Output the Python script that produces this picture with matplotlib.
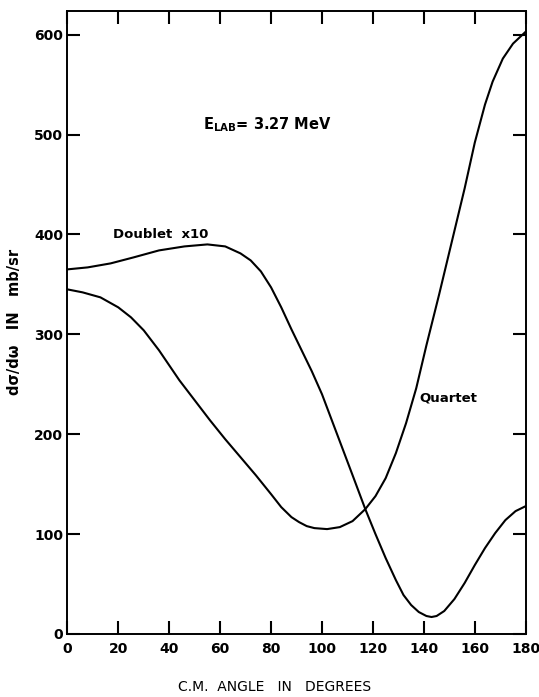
import matplotlib
matplotlib.use("Agg")
import matplotlib.pyplot as plt

# curves (angle in degrees, cross section in mb/sr)
quartet_angle = [0, 6, 13, 20, 25, 30, 36, 44, 50, 56, 62, 68, 74, 80, 84, 88,
                 91, 94, 97, 102, 107, 112, 117, 121, 125, 129, 133, 137, 141,
                 146, 151, 156, 160, 164, 167, 171, 175, 180]
quartet_val = [345, 342, 337, 327, 317, 304, 284, 254, 234, 214, 195, 177, 159,
               140, 127, 117, 112, 108, 106, 105, 107, 113, 125, 138, 156,
               181, 211, 246, 289, 340, 393, 446, 492, 530, 553, 576, 591, 603]

doublet_angle = [0, 8, 17, 26, 36, 46, 55, 62, 68, 72, 76, 80, 84, 88, 92, 96,
                 100, 104, 108, 112, 117, 121, 125, 129, 132, 135, 138, 141,
                 143, 145, 148, 152, 156, 160, 164, 168, 172, 176, 180]
doublet_val = [365, 367, 371, 377, 384, 388, 390, 388, 381, 374, 363, 347, 327,
               305, 284, 263, 240, 213, 186, 159, 125, 100, 76, 54, 39, 29, 22,
               18, 17, 18, 23, 35, 51, 69, 86, 101, 114, 123, 128]

x_ticks = [0, 20, 40, 60, 80, 100, 120, 140, 160, 180]
y_ticks = [0, 100, 200, 300, 400, 500, 600]

fig = plt.figure(figsize=(5.39, 6.97), dpi=100)
ax = fig.add_axes([0.1249, 0.0904, 0.8505, 0.8943])

ax.plot(quartet_angle, quartet_val, color='black', lw=1.5)
ax.plot(doublet_angle, doublet_val, color='black', lw=1.5)

ax.set_xlim(0, 180)
ax.set_ylim(0, 624)
ax.set_xticks(x_ticks)
ax.set_yticks(y_ticks)

for s in ax.spines.values():
    s.set_linewidth(1.4)

ax.tick_params(axis='both', direction='in', length=9.5, width=1.5,
               top=True, right=True, labelsize=10)
ax.tick_params(axis='x', pad=6)
ax.tick_params(axis='y', pad=3)
for lab in ax.get_xticklabels() + ax.get_yticklabels():
    lab.set_fontweight('bold')

ax.set_ylabel('d\u03c3/d\u03c9   IN   mb/sr', fontsize=10.5, fontweight='bold',
              labelpad=9)
fig.text(0.510, 0.014, 'C.M.  ANGLE   IN   DEGREES', ha='center',
         va='center', fontsize=10)

ax.text(18, 396, 'Doublet  x10', fontsize=9.5, fontweight='bold')
ax.text(138.2, 233, 'Quartet', fontsize=9.5, fontweight='bold')
ax.text(53.3, 505, 'E$_{\\mathbf{LAB}}$= 3.27 MeV', fontsize=10.5,
        fontweight='bold')

fig.savefig('out.png', dpi=100)
